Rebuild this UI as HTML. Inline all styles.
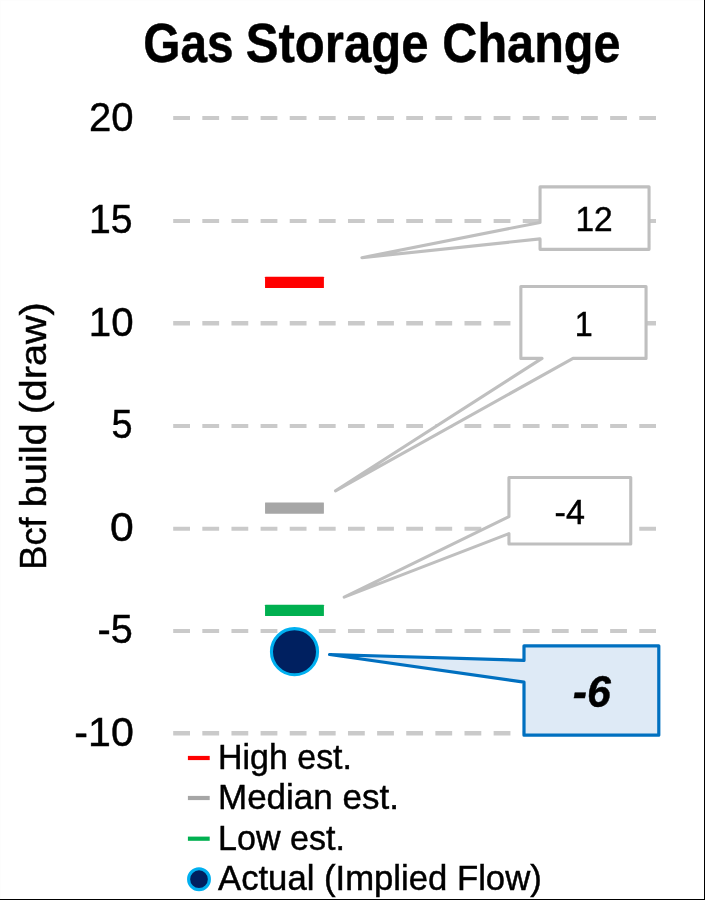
<!DOCTYPE html>
<html><head><meta charset="utf-8"><title>Gas Storage Change</title>
<style>
html,body{margin:0;padding:0;background:#fff;}
body{width:705px;height:900px;overflow:hidden;position:relative;font-family:"Liberation Sans",sans-serif;}
svg{position:absolute;left:0;top:0;display:block;will-change:transform;}
svg text{font-family:"Liberation Sans",sans-serif;fill:#000;stroke:#000;stroke-width:0.45px;}
</style></head>
<body>
<svg width="705" height="900" viewBox="0 0 705 900">
<rect x="0" y="0" width="705" height="900" fill="#fff"/>
<rect x="0" y="0" width="705" height="1" fill="#fdfdfd"/>
<rect x="0" y="0" width="1" height="900" fill="#fdfdfd"/>
<rect x="704" y="0" width="1" height="900" fill="#000"/>
<rect x="0" y="899" width="705" height="1" fill="#000"/>
<g stroke="#cacaca" stroke-dasharray="16.8 12.33" fill="none"><line x1="173.2" x2="656.0" y1="118.00" y2="118.00" stroke-width="4.0"/><line x1="173.2" x2="656.0" y1="221.00" y2="221.00" stroke-width="4.0"/><line x1="173.2" x2="656.0" y1="323.20" y2="323.20" stroke-width="4.4"/><line x1="173.2" x2="656.0" y1="426.00" y2="426.00" stroke-width="4.0"/><line x1="173.2" x2="656.0" y1="528.75" y2="528.75" stroke-width="4.2"/><line x1="173.2" x2="656.0" y1="631.00" y2="631.00" stroke-width="4.0"/><line x1="173.2" x2="656.0" y1="733.20" y2="733.20" stroke-width="4.4"/></g>
<rect x="265.05" y="276.75" width="58.85" height="11.3" rx="0.4" fill="#ff0000"/>
<rect x="265.05" y="502.45" width="58.85" height="11.3" rx="0.4" fill="#a6a6a6"/>
<rect x="265.05" y="604.75" width="58.85" height="11.3" rx="0.4" fill="#00b050"/>
<circle cx="294.5" cy="651.7" r="23.05" fill="#002060" stroke="#00b0f0" stroke-width="3.1"/>
<g fill="#fff" stroke="#bfbfbf" stroke-width="3.1" stroke-linejoin="round">
<path d="M540.05,186.85 H649.05 V249.35 H540.05 V238.9 L361.9,257.7 L540.05,222.4 Z"/>
<path d="M520.85,286.55 H646.05 V358.4 H573 L335.5,490.8 L542,358.4 H520.85 Z"/>
<path d="M508.95,477.45 H630.75 V544.05 H508.95 V533.6 L344.2,597.1 L508.95,516.7 Z"/>
</g>
<path d="M524,645.8 H658.8 V735.2 H524 V682.2 L329.6,654.5 L524,660.4 Z" fill="#deeaf6" stroke="#0070c0" stroke-width="3.2" stroke-linejoin="round"/>
<rect x="187.9" y="755.9" width="21.8" height="4.2" fill="#ff0000"/>
<rect x="187.9" y="795.9" width="21.8" height="4.2" fill="#a6a6a6"/>
<rect x="187.9" y="836.6" width="21.8" height="4.2" fill="#00b050"/>
<circle cx="199" cy="879.2" r="10.4" fill="#002060" stroke="#00b0f0" stroke-width="3.1"/>
<text transform="translate(143.19,62.00) scale(0.8699,1)" font-size="55.00" font-weight="bold">Gas</text>
<text transform="translate(245.63,62.00) scale(0.8937,1)" font-size="55.00" font-weight="bold">Storage</text>
<text transform="translate(442.36,62.00) scale(0.8836,1)" font-size="55.00" font-weight="bold">Change</text>
<text transform="translate(89.00,131.00) scale(0.9709,1)" font-size="41.30">20</text>
<text transform="translate(89.06,233.00) scale(0.9491,1)" font-size="41.30">15</text>
<text transform="translate(88.78,336.00) scale(0.9758,1)" font-size="41.30">10</text>
<text transform="translate(111.48,438.00) scale(0.9175,1)" font-size="41.30">5</text>
<text transform="translate(110.09,541.00) scale(1.0348,1)" font-size="41.30">0</text>
<text transform="translate(97.52,643.00) scale(0.9594,1)" font-size="41.30">-5</text>
<text transform="translate(74.35,746.00) scale(0.9952,1)" font-size="41.30">-10</text>
<text transform="translate(46.00,569.70) rotate(-90) scale(0.9594,1)" font-size="37.80">Bcf</text>
<text transform="translate(46.00,507.49) rotate(-90) scale(1.0542,1)" font-size="37.80">build</text>
<text transform="translate(46.00,414.37) rotate(-90) scale(1.0465,1)" font-size="37.80">(draw)</text>
<text transform="translate(575.49,231.00) scale(0.9600,1)" font-size="34.90">12</text>
<text transform="translate(574.68,336.00) scale(0.9262,1)" font-size="34.90">1</text>
<text transform="translate(554.57,524.00) scale(0.9774,1)" font-size="34.90">-4</text>
<text transform="translate(572.72,707.00) scale(0.9811,1)" font-size="43.60" font-weight="bold" font-style="italic">-6</text>
<text transform="translate(218.09,769.00) scale(0.9723,1)" font-size="34.90">High est.</text>
<text transform="translate(218.00,809.00) scale(1.0029,1)" font-size="34.90">Median est.</text>
<text transform="translate(218.07,850.00) scale(0.9761,1)" font-size="34.90">Low est.</text>
<text transform="translate(218.03,890.00) scale(0.9937,1)" font-size="34.90">Actual (Implied Flow)</text>
</svg>
</body></html>
